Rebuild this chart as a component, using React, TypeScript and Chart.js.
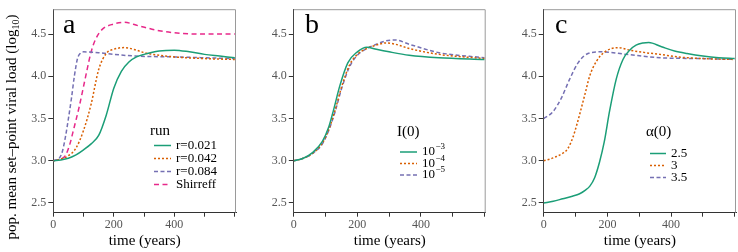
import React, { useEffect, useRef } from "react";
import { Chart, registerables } from "chart.js";

Chart.register(...registerables);

const SERIF = '"Liberation Serif", "Times New Roman", serif';
const GREEN = "#1b9e77";
const ORANGE = "#d95f02";
const PURPLE = "#7570b3";
const PINK = "#e7298a";

// ---------- panel a: run ----------
const aTimeR021 = [0, 25, 50, 75, 100, 125, 150, 175, 200, 225, 250, 275, 300, 350, 400, 450, 500, 550, 600];
const aR021 = [3.0, 3.01, 3.03, 3.07, 3.13, 3.2, 3.3, 3.54, 3.86, 4.06, 4.17, 4.23, 4.26, 4.3, 4.31, 4.29, 4.26, 4.24, 4.22];
const aTimeR042 = [0, 25, 50, 75, 100, 125, 150, 175, 200, 235, 275, 300, 350, 400, 500, 600];
const aR042 = [3.0, 3.02, 3.06, 3.15, 3.36, 3.67, 4.08, 4.27, 4.32, 4.34, 4.31, 4.28, 4.25, 4.23, 4.21, 4.2];
const aTimeR084 = [0, 10, 20, 30, 40, 50, 60, 70, 80, 90, 100, 150, 200, 272, 400, 500, 600];
const aR084 = [3.0, 3.01, 3.03, 3.11, 3.28, 3.5, 3.74, 4.01, 4.21, 4.275, 4.29, 4.28, 4.26, 4.24, 4.23, 4.22, 4.21];
const aTimeShirreff = [0, 25, 40, 55, 65, 85, 100, 110, 125, 140, 160, 200, 235, 280, 350, 420, 500, 600];
const aShirreff = [3.0, 3.02, 3.06, 3.2, 3.34, 3.63, 3.88, 4.05, 4.29, 4.44, 4.55, 4.62, 4.64, 4.6, 4.54, 4.51, 4.5, 4.5];
const aLabels = ["r=0.021", "r=0.042", "r=0.084", "Shirreff"];

// ---------- panel b: I(0) ----------
const bTime3 = [0, 30, 60, 90, 110, 125, 145, 170, 200, 230, 260, 300, 363, 457, 600];
const bI3 = [3.0, 3.03, 3.1, 3.23, 3.4, 3.6, 3.89, 4.16, 4.29, 4.345, 4.32, 4.29, 4.25, 4.22, 4.2];
const bTime4 = [0, 30, 60, 90, 110, 130, 150, 175, 200, 230, 260, 290, 320, 363, 457, 600];
const bI4 = [3.0, 3.03, 3.09, 3.21, 3.37, 3.6, 3.87, 4.13, 4.26, 4.33, 4.37, 4.395, 4.38, 4.33, 4.26, 4.21];
const bTime5 = [0, 30, 60, 90, 110, 130, 150, 175, 200, 230, 260, 290, 320, 363, 457, 600];
const bI5 = [3.0, 3.03, 3.09, 3.2, 3.36, 3.58, 3.85, 4.11, 4.25, 4.33, 4.38, 4.42, 4.43, 4.38, 4.28, 4.22];
const bExponents = ["\u22123", "\u22124", "\u22125"];

// ---------- panel c: alpha(0) ----------
const cTime25 = [0, 30, 60, 90, 113, 130, 145, 160, 175, 190, 207, 228, 249, 270, 290, 312, 330, 370, 411, 450, 500, 550, 600];
const cA25 = [2.5, 2.52, 2.55, 2.58, 2.61, 2.65, 2.7, 2.8, 2.98, 3.22, 3.59, 3.97, 4.2, 4.31, 4.37, 4.395, 4.4, 4.35, 4.3, 4.27, 4.24, 4.22, 4.21];
const cTime3 = [0, 20, 40, 60, 75, 92, 105, 113, 129, 145, 166, 192, 234, 270, 320, 365, 420, 500, 600];
const cA3 = [3.0, 3.02, 3.05, 3.09, 3.14, 3.28, 3.44, 3.55, 3.78, 4.01, 4.18, 4.29, 4.34, 4.31, 4.28, 4.26, 4.23, 4.21, 4.2];
const cTime35 = [0, 29, 55, 82, 108, 139, 181, 260, 366, 500, 600];
const cA35 = [3.5, 3.58, 3.74, 3.97, 4.16, 4.27, 4.29, 4.26, 4.22, 4.21, 4.2];
const cLabels = ["2.5", "3", "3.5"];

const xTicks = [0, 100, 200, 300, 400, 500, 600];
const xTickLabels = [0, 200, 400];
const yTicks = [2.5, 3.0, 3.5, 4.0, 4.5];

type Series = { label: string; sup?: string; t: number[]; v: number[]; color: string; dash: number[] };

type PanelSpec = {
  letter: string;
  left: number;
  width: number;
  yWidth: number;
  padRight: number;
  legendTitle: string;
  legendTitleX: number;
  legendTitleY: number;
  lineX0: number;
  lineX1: number;
  textX: number;
  rows: number[];
  letterX: number;
  series: Series[];
  yTitle: boolean;
};

const DOT = [2, 2];
const DASH = [4, 2.5];
const LONG = [5, 3.5];

const panels: PanelSpec[] = [
  {
    letter: "a", left: 0, width: 240, yWidth: 53.3, padRight: 4,
    legendTitle: "run", legendTitleX: 150, legendTitleY: 131.5,
    lineX0: 154, lineX1: 171, textX: 176, rows: [145.5, 158.5, 171.5, 184.5], letterX: 63,
    yTitle: true,
    series: [
      { label: aLabels[0], t: aTimeR021, v: aR021, color: GREEN, dash: [] },
      { label: aLabels[1], t: aTimeR042, v: aR042, color: ORANGE, dash: DOT },
      { label: aLabels[2], t: aTimeR084, v: aR084, color: PURPLE, dash: DASH },
      { label: aLabels[3], t: aTimeShirreff, v: aShirreff, color: PINK, dash: LONG },
    ],
  },
  {
    letter: "b", left: 240, width: 250, yWidth: 53.8, padRight: 4.3,
    legendTitle: "I(0)", legendTitleX: 397, legendTitleY: 132.5,
    lineX0: 400, lineX1: 417, textX: 422, rows: [152, 163.5, 175], letterX: 305,
    yTitle: false,
    series: [
      { label: "10", sup: bExponents[0], t: bTime3, v: bI3, color: GREEN, dash: [] },
      { label: "10", sup: bExponents[1], t: bTime4, v: bI4, color: ORANGE, dash: DOT },
      { label: "10", sup: bExponents[2], t: bTime5, v: bI5, color: PURPLE, dash: DASH },
    ],
  },
  {
    letter: "c", left: 490, width: 248, yWidth: 53.7, padRight: 2,
    legendTitle: "\u03b1(0)", legendTitleX: 646, legendTitleY: 132.5,
    lineX0: 650, lineX1: 666, textX: 671, rows: [153.5, 165.5, 177.5], letterX: 555,
    yTitle: false,
    series: [
      { label: cLabels[0], t: cTime25, v: cA25, color: GREEN, dash: [] },
      { label: cLabels[1], t: cTime3, v: cA3, color: ORANGE, dash: DOT },
      { label: cLabels[2], t: cTime35, v: cA35, color: PURPLE, dash: DASH },
    ],
  },
];

function decorPlugin(spec: PanelSpec) {
  return {
    id: "decor_" + spec.letter,
    afterDraw(chart: any) {
      const ctx: CanvasRenderingContext2D = chart.ctx;
      const a = chart.chartArea;
      const off = spec.left;
      ctx.save();
      // top & right frame
      ctx.strokeStyle = "#9a9a9a";
      ctx.lineWidth = 1;
      ctx.setLineDash([]);
      ctx.beginPath();
      ctx.moveTo(a.left, a.top + 0.5);
      ctx.lineTo(a.right - 0.5, a.top + 0.5);
      ctx.lineTo(a.right - 0.5, a.bottom);
      ctx.stroke();

      // panel letter
      ctx.fillStyle = "#000";
      ctx.font = `28px ${SERIF}`;
      ctx.textAlign = "left";
      ctx.textBaseline = "alphabetic";
      ctx.fillText(spec.letter, spec.letterX - off, 33);

      // legend
      ctx.font = `15px ${SERIF}`;
      ctx.textBaseline = "middle";
      ctx.fillText(spec.legendTitle, spec.legendTitleX - off, spec.legendTitleY);
      spec.series.forEach((s, i) => {
        const y = spec.rows[i];
        ctx.strokeStyle = s.color;
        ctx.lineWidth = 1.5;
        ctx.setLineDash(s.dash);
        ctx.beginPath();
        ctx.moveTo(spec.lineX0 - off, y);
        ctx.lineTo(spec.lineX1 - off, y);
        ctx.stroke();
        ctx.setLineDash([]);
        ctx.fillStyle = "#000";
        ctx.font = `13px ${SERIF}`;
        ctx.fillText(s.label, spec.textX - off, y);
        if (s.sup) {
          const w = ctx.measureText(s.label).width;
          ctx.font = `9px ${SERIF}`;
          ctx.fillText(s.sup, spec.textX - off + w + 0.5, y - 5);
        }
      });

      // x-axis title
      ctx.fillStyle = "#000";
      ctx.font = `15px ${SERIF}`;
      ctx.textAlign = "center";
      ctx.textBaseline = "middle";
      ctx.fillText("time (years)", (a.left + a.right) / 2, 241.5);

      // y-axis title
      if (spec.yTitle) {
        const main = "pop. mean set\u2013point viral load (log";
        const sub = "10";
        const end = ")";
        ctx.translate(12.5, 127);
        ctx.rotate(-Math.PI / 2);
        ctx.textAlign = "left";
        ctx.font = `15px ${SERIF}`;
        const w1 = ctx.measureText(main).width;
        const w3 = ctx.measureText(end).width;
        ctx.font = `10px ${SERIF}`;
        const w2 = ctx.measureText(sub).width;
        const start = -(w1 + w2 + w3) / 2;
        ctx.font = `15px ${SERIF}`;
        ctx.fillText(main, start, 0);
        ctx.font = `10px ${SERIF}`;
        ctx.fillText(sub, start + w1, 3.5);
        ctx.font = `15px ${SERIF}`;
        ctx.fillText(end, start + w1 + w2, 0);
      }
      ctx.restore();
    },
  };
}

function xLabel(v: any): string {
  const n = Math.round(Number(v));
  return xTickLabels.indexOf(n) >= 0 ? String(n) : "";
}

function buildConfig(spec: PanelSpec): any {
  return {
    type: "line",
    data: {
      datasets: spec.series.map((s) => ({
        label: s.label,
        data: s.t.map((x, i) => ({ x, y: s.v[i] })),
        borderColor: s.color,
        backgroundColor: s.color,
        borderWidth: 1.5,
        borderDash: s.dash,
        pointRadius: 0,
        fill: false,
        cubicInterpolationMode: "monotone",
      })),
    },
    options: {
      responsive: false,
      animation: false,
      devicePixelRatio: 1,
      layout: { padding: { left: 0, right: spec.padRight, top: 3.3, bottom: 0 } },
      plugins: { legend: { display: false }, tooltip: { enabled: false }, title: { display: false } },
      scales: {
        x: {
          type: "linear",
          min: 0,
          max: 604,
          afterBuildTicks: (s: any) => { s.ticks = xTicks.map((value) => ({ value })); },
          afterFit: (s: any) => { s.height = 39.3; },
          border: { display: true, color: "#333", width: 1 },
          grid: { drawOnChartArea: false, drawTicks: true, tickLength: 4, tickColor: "#333" },
          ticks: {
            autoSkip: false,
            maxRotation: 0,
            minRotation: 0,
            padding: 1,
            color: "#555",
            font: { family: SERIF, size: 12 },
            callback: function (this: any, v: any) { return xLabel(v); },
          },
        },
        y: {
          type: "linear",
          min: 2.385,
          max: 4.795,
          afterBuildTicks: (s: any) => { s.ticks = yTicks.map((value) => ({ value })); },
          afterFit: (s: any) => { s.width = spec.yWidth; },
          border: { display: true, color: "#444", width: 1 },
          grid: { drawOnChartArea: false, drawTicks: true, tickLength: 5, tickColor: "#333" },
          ticks: {
            autoSkip: false,
            padding: 2,
            color: "#555",
            font: { family: SERIF, size: 12 },
            callback: (v: any) => Number(v).toFixed(1),
          },
        },
      },
    },
    plugins: [decorPlugin(spec)],
  };
}

function Panel({ spec }: { spec: PanelSpec }) {
  const ref = useRef<HTMLCanvasElement | null>(null);
  useEffect(() => {
    if (!ref.current) return;
    const chart = new Chart(ref.current, buildConfig(spec));
    return () => chart.destroy();
  }, [spec]);
  return (
    <canvas
      ref={ref}
      width={spec.width}
      height={252}
      style={{ position: "absolute", left: spec.left, top: 0, width: spec.width, height: 252 }}
    />
  );
}

export default function App() {
  return (
    <div style={{ position: "fixed", left: 0, top: 0, width: 738, height: 252, background: "#fff", overflow: "hidden" }}>
      {panels.map((p) => (
        <Panel key={p.letter} spec={p} />
      ))}
    </div>
  );
}
